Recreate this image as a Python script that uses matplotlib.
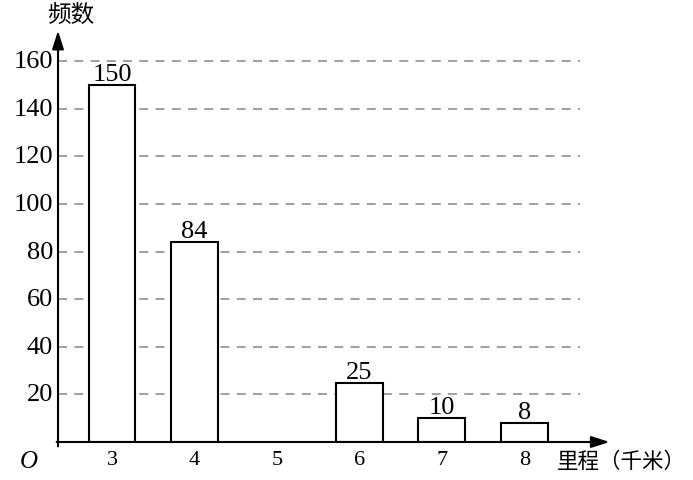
import matplotlib.pyplot as plt

plt.rcParams['font.family'] = ['Liberation Serif', 'Noto Sans CJK SC', 'DejaVu Sans']

mileage = [3, 4, 5, 6, 7, 8]
counts = [150, 84, 0, 25, 10, 8]
bar_labels = ['150', '84', '', '25', '10', '8']
y_ticks = [20, 40, 60, 80, 100, 120, 140, 160]

fig = plt.figure(figsize=(6.93, 4.81), dpi=100)
ax = fig.add_axes([0.0837, 0.079, 0.8, 0.848])

x0, x1 = 2.345, 9.07
ax.set_xlim(x0, x1)
ax.set_ylim(0, 171.4)

# dashed grid lines
ax.hlines(y_ticks, x0, 8.68, colors='#999999', linestyles=(0, (5, 4)), linewidth=1.3)

# bars (skip zero)
xs = [m for m, c in zip(mileage, counts) if c > 0]
hs = [c for c in counts if c > 0]
ax.bar(xs, hs, width=0.57, color='white', edgecolor='black', linewidth=1.5, zorder=3)
for m, c, lab in zip(mileage, counts, bar_labels):
    if lab:
        ax.text(m, c, lab, ha='center', va='bottom', fontsize=19, zorder=4)

for s in ax.spines.values():
    s.set_visible(False)
ax.set_xticks([])
ax.set_yticks([])

# axes arrows
ax.annotate('', xy=(x1, 0), xytext=(x0 - 0.05, 0),
            arrowprops=dict(arrowstyle='-|>,head_length=1.1,head_width=0.35', color='black', lw=1.5),
            annotation_clip=False)
ax.annotate('', xy=(x0, 174), xytext=(x0, -3),
            arrowprops=dict(arrowstyle='-|>,head_length=1.1,head_width=0.35', color='black', lw=1.5),
            annotation_clip=False)

# tick labels
for v in y_ticks:
    ax.text(x0 - 0.06, v, str(v), ha='right', va='center', fontsize=19)
for m in mileage:
    ax.text(m, -3.5, str(m), ha='center', va='top', fontsize=16)

ax.text(x0 - 0.25, -3.5, 'O', ha='right', va='top', fontsize=18, style='italic')
ax.text(x0 - 0.13, 175, '频数', ha='left', va='bottom', fontsize=17,
        family=['Noto Sans CJK SC', 'DejaVu Sans'])
ax.text(8.4, -3.5, '里程（千米）', ha='left', va='top', fontsize=15.5,
        family=['Noto Sans CJK SC', 'DejaVu Sans'])

fig.savefig('out.png', dpi=100)
